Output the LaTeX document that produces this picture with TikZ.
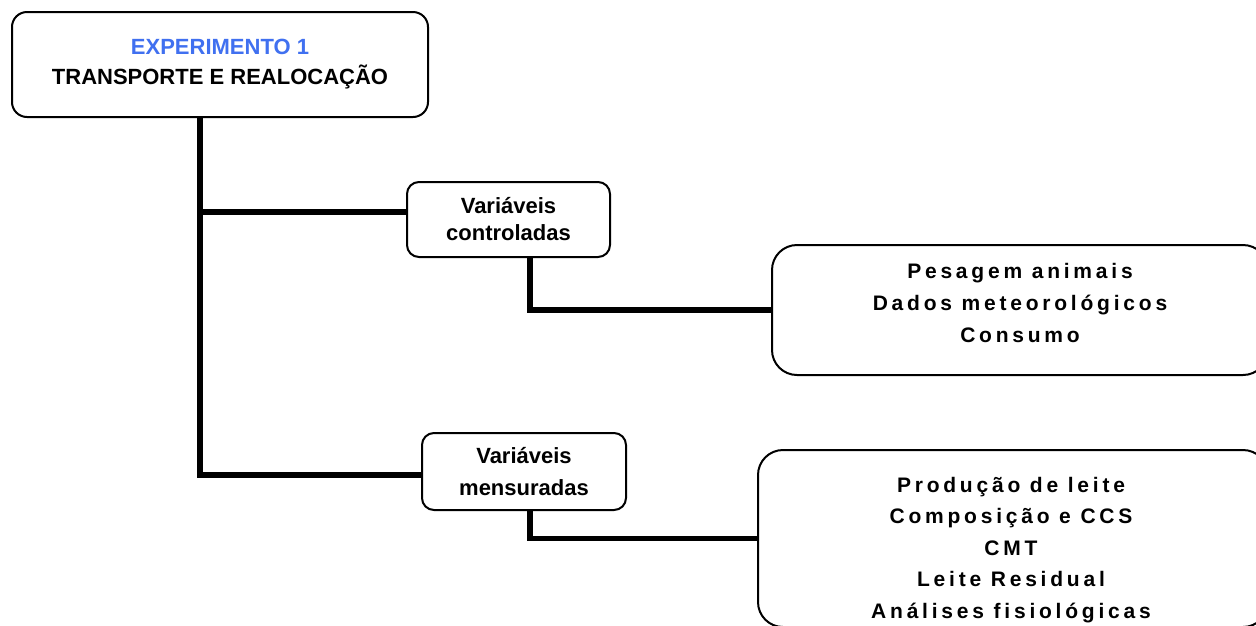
\documentclass[tikz,border=0pt]{standalone}
\usepackage{fontspec}
\setmainfont{Liberation Sans}
\newfontfamily\spacedfont[LetterSpace=18]{Liberation Sans}
\usepackage{xcolor}
\definecolor{expblue}{RGB}{64,112,240}

\begin{document}
\begin{tikzpicture}[x=1pt,y=-1pt,
  box/.style={draw=black,fill=white,line width=2pt,rounded corners=12pt,inner sep=0pt,align=center},
  bigbox/.style={box,rounded corners=25pt},
  listtext/.style={align=center,inner sep=0pt,font=\fontsize{21}{32}\spacedfont\bfseries},
  link/.style={line width=5.5pt,black}]
  \def\trunk{200}
  \def\drop{530}
  \useasboundingbox (0,0) rectangle (1256,625);
  \clip (0,0) rectangle (1256,625);

  %Boxes
  \node[box,rounded corners=15pt,minimum width=416pt,minimum height=105pt,
        font=\fontsize{22}{30}\selectfont\bfseries] (exp) at (220,64.5)
        {\textcolor{expblue}{EXPERIMENTO 1}\\TRANSPORTE E REALOCAÇÃO};
  \node[box,minimum width=203pt,minimum height=75pt,font=\fontsize{22}{27}\selectfont\bfseries]
        (ctrl) at (508.5,219.5) {Variáveis\\controladas};
  \node[box,minimum width=204pt,minimum height=77pt,font=\fontsize{22}{32}\selectfont\bfseries]
        (mens) at (524,471.5) {Variáveis\\mensuradas};

  %Lists on the right (box is cut by the page edge)
  \node[bigbox,minimum width=496pt,minimum height=130pt] (pes) at (1020,310) {};
  \node[listtext] (pestext) at (1020,303)
        {Pesagem animais\\Dados meteorológicos\\Consumo};
  \node[bigbox,minimum width=510pt,minimum height=177pt] (med) at (1013,538.5) {};
  \node[listtext,font=\fontsize{21}{31.5}\spacedfont\bfseries] (medtext) at (1011,550)
        {Produção de leite\\Composição e CCS\\CMT\\Leite Residual\\Análises fisiológicas};

  %Connectors
  \coordinate (fork) at (\trunk,212);
  \coordinate (foot) at (\trunk,475);
  \coordinate (turn) at (\drop,0);
  \draw[link] (exp.south -| foot) -- (foot) -- (foot -| mens.west);
  \draw[link] (fork) -- (fork -| ctrl.west);
  \draw[link] (ctrl.south -| turn) |- (pes.west);
  \draw[link] (mens.south -| turn) |- (med.west);
\end{tikzpicture}
\end{document}
